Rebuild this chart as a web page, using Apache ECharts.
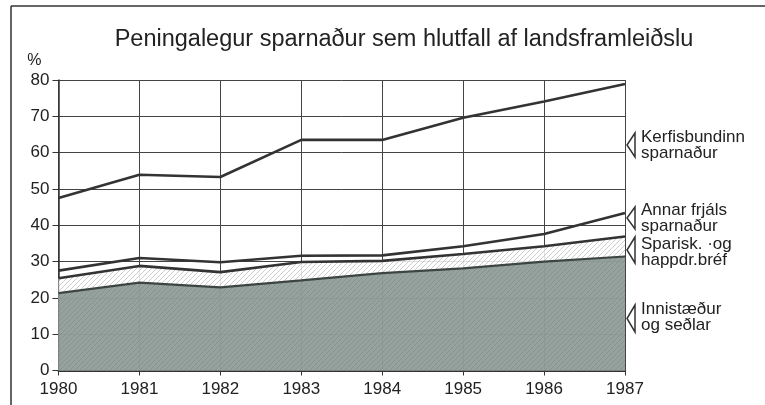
<!DOCTYPE html>
<html>
<head>
<meta charset="utf-8">
<script src="https://cdn.jsdelivr.net/npm/echarts@6/dist/echarts.min.js"></script>
<style>
html, body { margin: 0; padding: 0; background: #fff; }
#chart { width: 765px; height: 405px; }
</style>
</head>
<body>
<div id="chart"></div>
<script>
// árin og uppsöfnuð gildi (% af landsframleiðslu), lesin af myndinni
var years = ['1980', '1981', '1982', '1983', '1984', '1985', '1986', '1987'];
var innistaedur = [21.3, 24.2, 22.9, 24.8, 26.8, 28.1, 30.0, 31.4];
var sparisk = [25.4, 28.8, 27.1, 29.9, 30.2, 32.1, 34.2, 36.9];
var annarFrjals = [27.5, 31.0, 29.8, 31.6, 31.7, 34.2, 37.6, 43.4];
var kerfisbundinn = [47.5, 53.9, 53.3, 63.5, 63.5, 69.6, 74.1, 78.9];

var FONT = 'Liberation Sans';

// skástrikað mynstur fyrir spariskírteinin
function hatch() {
	var c = document.createElement('canvas');
	c.width = 5; c.height = 5;
	var ctx = c.getContext('2d');
	ctx.fillStyle = 'rgba(255,255,255,0.85)';
	ctx.fillRect(0, 0, 5, 5);
	ctx.strokeStyle = '#b4b8b6';
	ctx.lineWidth = 0.7;
	ctx.beginPath();
	ctx.moveTo(0, 5); ctx.lineTo(5, 0);
	ctx.moveTo(-1, 1); ctx.lineTo(1, -1);
	ctx.moveTo(4, 6); ctx.lineTo(6, 4);
	ctx.stroke();
	return c;
}

var chart = echarts.init(document.getElementById('chart'), null, { renderer: 'canvas' });

function tri(y1, y2) {
	return {
		type: 'polygon',
		shape: { points: [[635, y1], [627, (y1 + y2) / 2], [635, y2]] },
		style: { fill: 'none', stroke: '#333', lineWidth: 1.5 }
	};
}
function lbl(y, txt) {
	return {
		type: 'text', left: 641, top: y,
		style: { text: txt, font: '17px "' + FONT + '"', fill: '#222', lineHeight: 15.5 }
	};
}

var lineStyle = { color: '#333', width: 2.6 };

option = {
	backgroundColor: '#fff',
	animation: false,
	title: {
		text: 'Peningalegur sparnaður sem hlutfall af landsframleiðslu',
		left: 399, top: 23, textAlign: 'center',
		textStyle: { fontFamily: FONT, fontSize: 23.5, fontWeight: 'normal', color: '#222' }
	},
	grid: { left: 58.5, right: 140, top: 80, bottom: 34.5 },
	xAxis: {
		type: 'category',
		data: years,
		boundaryGap: false,
		axisLine: { lineStyle: { color: '#333', width: 2 } },
		axisTick: { show: true, length: 5, lineStyle: { color: '#333' } },
		axisLabel: { fontFamily: FONT, fontSize: 17, color: '#222', margin: 10 },
		splitLine: { show: true, lineStyle: { color: '#444', width: 1 } }
	},
	yAxis: {
		type: 'value',
		name: '%',
		nameLocation: 'end',
		nameGap: 11,
		nameTextStyle: { fontFamily: FONT, fontSize: 16, color: '#222', align: 'right', padding: [0, 17, 0, 0] },
		min: 0, max: 80, interval: 10,
		axisLine: { show: true, lineStyle: { color: '#333', width: 1.5 } },
		axisTick: { show: true, length: 6, lineStyle: { color: '#333' } },
		axisLabel: { fontFamily: FONT, fontSize: 17, color: '#222', margin: 9 },
		splitLine: { show: true, lineStyle: { color: '#444', width: 1 } }
	},
	series: [{
		name: 'Kerfisbundinn sparnaður',
		type: 'line', data: kerfisbundinn, symbol: 'none',
		lineStyle: lineStyle
	}, {
		name: 'Annar frjáls sparnaður',
		type: 'line', data: annarFrjals, symbol: 'none',
		lineStyle: lineStyle
	}, {
		name: 'Sparisk. og happdr.bréf',
		type: 'line', data: sparisk, symbol: 'none',
		lineStyle: lineStyle,
		areaStyle: { color: { image: hatch(), repeat: 'repeat' }, opacity: 1, origin: 'start' }
	}, {
		name: 'Innistæður og seðlar',
		type: 'line', data: innistaedur, symbol: 'none',
		lineStyle: { color: '#3d4541', width: 2.2 },
		areaStyle: { color: '#687a73', opacity: 0.7, origin: 'start' }
	}],
	graphic: [
		// rammi utan um myndina
		{ type: 'line', shape: { x1: 11, y1: 6, x2: 765, y2: 6 }, style: { stroke: '#333', lineWidth: 1.5 } },
		{ type: 'line', shape: { x1: 11, y1: 6, x2: 11, y2: 405 }, style: { stroke: '#333', lineWidth: 1.5 } },
		tri(133, 157), lbl(129, 'Kerfisbundinn\nsparnaður'),
		tri(207, 229), lbl(202, 'Annar frjáls\nsparnaður'),
		tri(237, 263), lbl(236, 'Sparisk. ·og\nhappdr.bréf'),
		tri(305, 332), lbl(301, 'Innistæður\nog seðlar')
	]
};
chart.setOption(option);
</script>
</body>
</html>
